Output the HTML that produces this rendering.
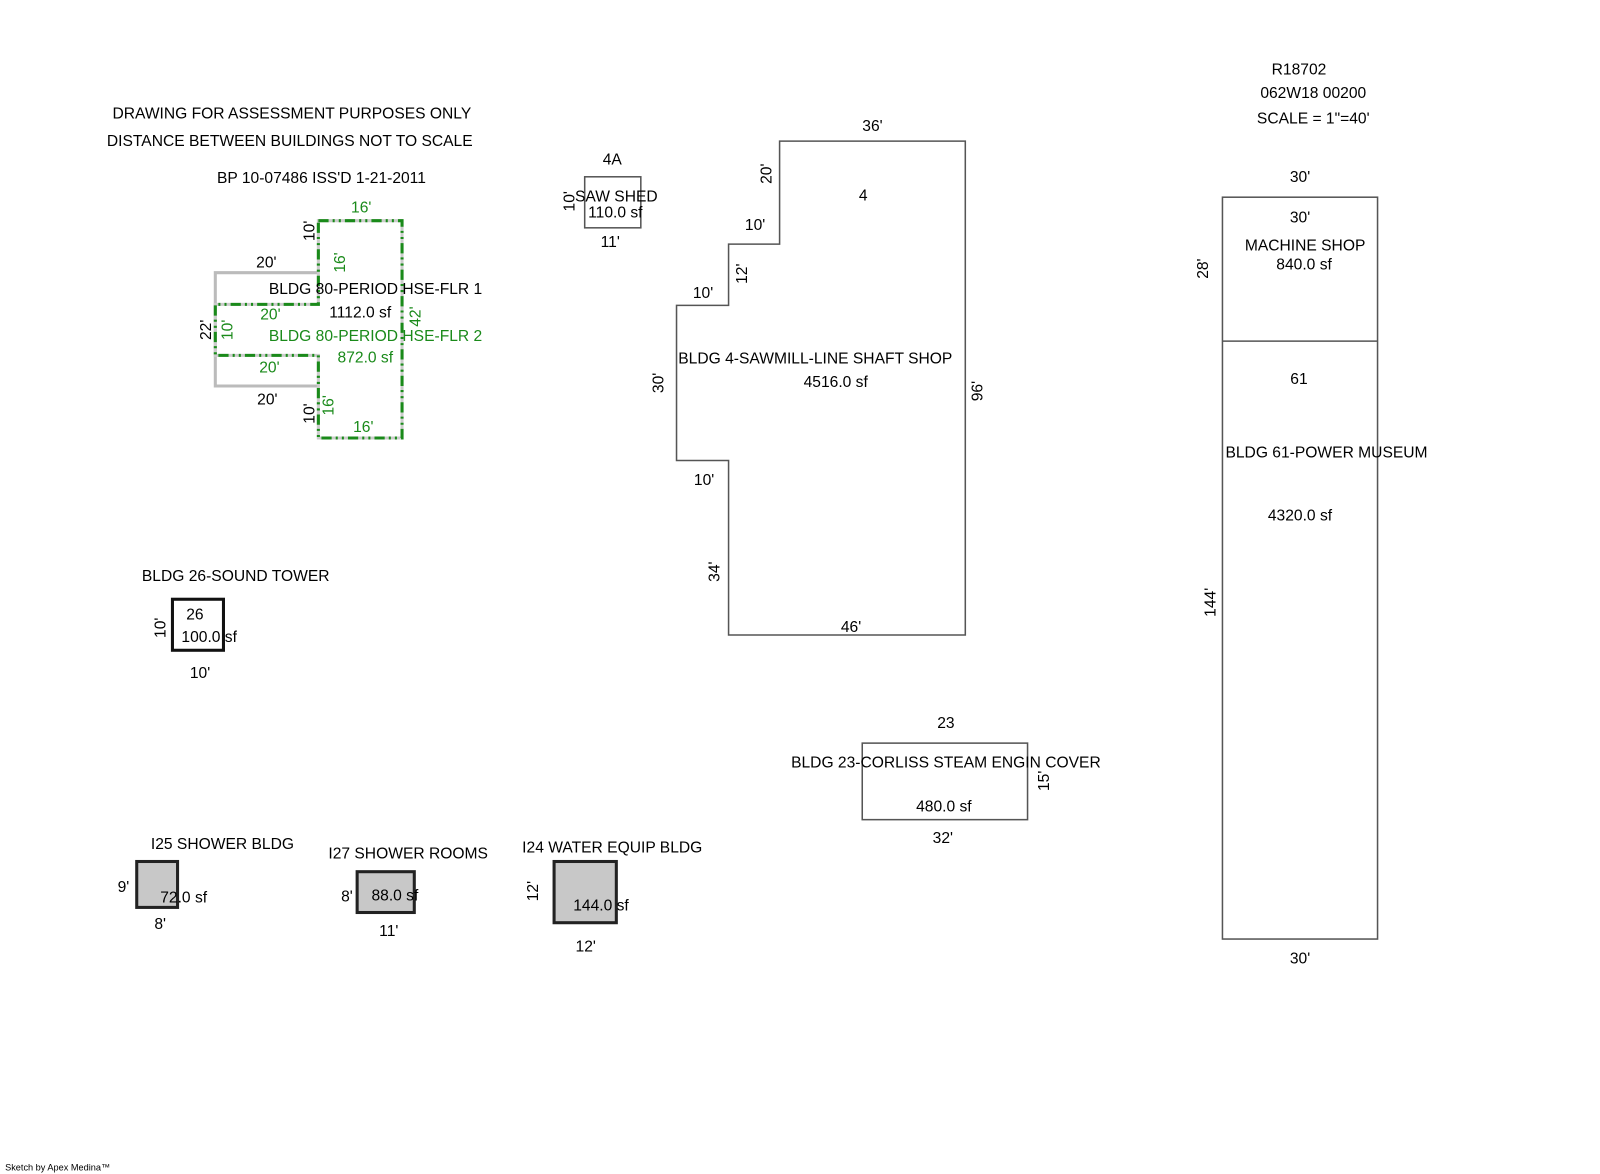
<!DOCTYPE html>
<html><head><meta charset="utf-8"><style>
html,body{margin:0;padding:0;background:#fff;}
svg{display:block;}
text{font-family:"Liberation Sans",sans-serif;font-size:15.3px;fill:#000;}
.g{fill:#1a8a1a;}
.s{font-size:9px;}
</style></head><body>
<svg width="1600" height="1174" viewBox="0 0 1568 1150" xmlns="http://www.w3.org/2000/svg">
<text x="286" y="116" text-anchor="middle">DRAWING FOR ASSESSMENT PURPOSES ONLY</text>
<text x="284" y="143" text-anchor="middle">DISTANCE BETWEEN BUILDINGS NOT TO SCALE</text>
<text x="315" y="179" text-anchor="middle">BP 10-07486 ISS'D 1-21-2011</text>
<text x="1273" y="73" text-anchor="middle">R18702</text>
<text x="1287" y="96" text-anchor="middle">062W18  00200</text>
<text x="1287" y="121" text-anchor="middle">SCALE = 1"=40'</text>

<polyline points="312,267 211,267 211,378 312,378" fill="none" stroke="#bbb" stroke-width="3"/>
<path d="M312,216 H394 V429 H312 V348 H211 V298 H312 Z" fill="none" stroke="#ccc" stroke-width="3"/>
<path d="M312,216 H394 V429 H312 V348 H211 V298 H312 Z" fill="none" stroke="#1a8a1a" stroke-width="3" stroke-dasharray="10,4,2,4,2,4"/>
<text x="354" y="208" text-anchor="middle" class="g">16'</text>
<text x="261" y="262" text-anchor="middle">20'</text>
<text x="265" y="313" text-anchor="middle" class="g">20'</text>
<text x="264" y="365" text-anchor="middle" class="g">20'</text>
<text x="262" y="396" text-anchor="middle">20'</text>
<text x="356" y="423" text-anchor="middle" class="g">16'</text>
<text x="368" y="288" text-anchor="middle">BLDG 80-PERIOD HSE-FLR 1</text>
<text x="353" y="311" text-anchor="middle">1112.0 sf</text>
<text x="368" y="334" text-anchor="middle" class="g">BLDG 80-PERIOD HSE-FLR 2</text>
<text x="358" y="355" text-anchor="middle" class="g">872.0 sf</text>
<text transform="translate(308,226) rotate(-90)" text-anchor="middle">10'</text>
<text transform="translate(338,257) rotate(-90)" text-anchor="middle" class="g">16'</text>
<text transform="translate(207,323) rotate(-90)" text-anchor="middle">22'</text>
<text transform="translate(228,323) rotate(-90)" text-anchor="middle" class="g">10'</text>
<text transform="translate(412,310) rotate(-90)" text-anchor="middle" class="g">42'</text>
<text transform="translate(308,405) rotate(-90)" text-anchor="middle">10'</text>
<text transform="translate(327,397) rotate(-90)" text-anchor="middle" class="g">16'</text>

<rect x="573" y="173" width="55" height="50" fill="none" stroke="#555" stroke-width="1.5"/>
<text x="600" y="161" text-anchor="middle">4A</text>
<text x="604" y="197" text-anchor="middle">SAW SHED</text>
<text x="603" y="213" text-anchor="middle">110.0 sf</text>
<text x="598" y="242" text-anchor="middle">11'</text>
<text transform="translate(563,197) rotate(-90)" text-anchor="middle">10'</text>

<path d="M764,138 H946 V622 H714 V451 H663 V299 H714 V239 H764 Z" fill="none" stroke="#555" stroke-width="1.5"/>
<text x="855" y="128" text-anchor="middle">36'</text>
<text x="846" y="196" text-anchor="middle">4</text>
<text x="740" y="225" text-anchor="middle">10'</text>
<text x="689" y="292" text-anchor="middle">10'</text>
<text x="799" y="356" text-anchor="middle">BLDG 4-SAWMILL-LINE SHAFT SHOP</text>
<text x="819" y="379" text-anchor="middle">4516.0 sf</text>
<text x="690" y="475" text-anchor="middle">10'</text>
<text x="834" y="619" text-anchor="middle">46'</text>
<text transform="translate(756,170) rotate(-90)" text-anchor="middle">20'</text>
<text transform="translate(732,268) rotate(-90)" text-anchor="middle">12'</text>
<text transform="translate(650,375) rotate(-90)" text-anchor="middle">30'</text>
<text transform="translate(963,383) rotate(-90)" text-anchor="middle">96'</text>
<text transform="translate(705,560) rotate(-90)" text-anchor="middle">34'</text>

<rect x="1198" y="193" width="152" height="727" fill="none" stroke="#555" stroke-width="1.5"/>
<line x1="1198" y1="334" x2="1350" y2="334" stroke="#555" stroke-width="1.5"/>
<text x="1274" y="178" text-anchor="middle">30'</text>
<text x="1274" y="218" text-anchor="middle">30'</text>
<text x="1279" y="245" text-anchor="middle">MACHINE SHOP</text>
<text x="1278" y="264" text-anchor="middle">840.0 sf</text>
<text transform="translate(1184,263) rotate(-90)" text-anchor="middle">28'</text>
<text x="1273" y="376" text-anchor="middle">61</text>
<text x="1300" y="448" text-anchor="middle">BLDG 61-POWER MUSEUM</text>
<text x="1274" y="510" text-anchor="middle">4320.0 sf</text>
<text transform="translate(1191,590) rotate(-90)" text-anchor="middle">144'</text>
<text x="1274" y="944" text-anchor="middle">30'</text>

<text x="231" y="569" text-anchor="middle">BLDG 26-SOUND TOWER</text>
<rect x="169" y="587" width="50" height="50" fill="none" stroke="#111" stroke-width="3"/>
<text x="191" y="607" text-anchor="middle">26</text>
<text x="205" y="629" text-anchor="middle">100.0 sf</text>
<text transform="translate(162,615) rotate(-90)" text-anchor="middle">10'</text>
<text x="196" y="664" text-anchor="middle">10'</text>

<rect x="845" y="728" width="162" height="75" fill="none" stroke="#555" stroke-width="1.5"/>
<text x="927" y="713" text-anchor="middle">23</text>
<text x="927" y="752" text-anchor="middle">BLDG 23-CORLISS STEAM ENGIN COVER</text>
<text x="925" y="795" text-anchor="middle">480.0 sf</text>
<text x="924" y="826" text-anchor="middle">32'</text>
<text transform="translate(1028,765) rotate(-90)" text-anchor="middle">15'</text>

<text x="218" y="832" text-anchor="middle">I25 SHOWER BLDG</text>
<rect x="134" y="844" width="40" height="45" fill="#c8c8c8" stroke="#222" stroke-width="3"/>
<text x="180" y="884" text-anchor="middle">72.0 sf</text>
<text x="121" y="874" text-anchor="middle">9'</text>
<text x="157" y="910" text-anchor="middle">8'</text>
<text x="400" y="841" text-anchor="middle">I27 SHOWER ROOMS</text>
<rect x="350" y="854" width="56" height="40" fill="#c8c8c8" stroke="#222" stroke-width="3"/>
<text x="387" y="882" text-anchor="middle">88.0 sf</text>
<text x="340" y="883" text-anchor="middle">8'</text>
<text x="381" y="917" text-anchor="middle">11'</text>
<text x="600" y="835" text-anchor="middle">I24 WATER EQUIP BLDG</text>
<rect x="543" y="844" width="61" height="60" fill="#c8c8c8" stroke="#222" stroke-width="3"/>
<text x="589" y="892" text-anchor="middle">144.0 sf</text>
<text transform="translate(527,873) rotate(-90)" text-anchor="middle">12'</text>
<text x="574" y="932" text-anchor="middle">12'</text>

<text x="5" y="1147" class="s">Sketch by Apex Medina™</text>
</svg>
</body></html>
